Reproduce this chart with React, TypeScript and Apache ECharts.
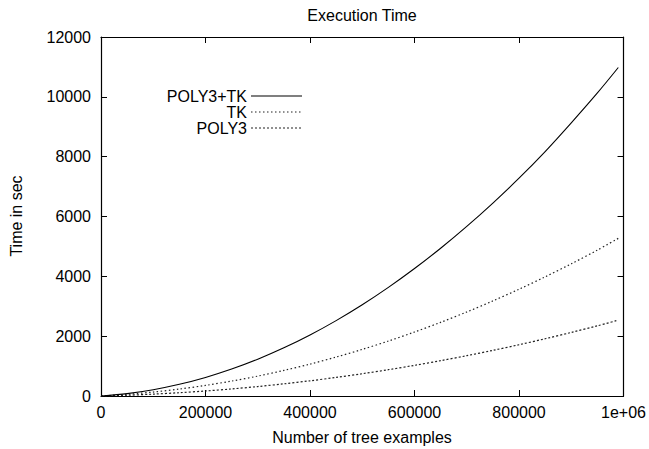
import React, { useEffect, useRef } from "react";
import * as echarts from "echarts";

const xValues = [0, 50000, 100000, 150000, 200000, 250000, 300000, 350000, 400000, 450000, 500000, 550000, 600000, 650000, 700000, 750000, 800000, 850000, 900000, 950000, 990000];
const poly3tk = [0, 80, 210, 390, 620, 900, 1230, 1610, 2040, 2520, 3050, 3630, 4260, 4940, 5670, 6450, 7280, 8170, 9130, 10130, 10980];
const tk = [0, 55, 132, 232, 354, 499, 665, 855, 1066, 1301, 1558, 1837, 2139, 2462, 2809, 3178, 3569, 3983, 4419, 4877, 5270];
const poly3 = [0, 25, 62, 110, 168, 236, 316, 407, 508, 621, 745, 879, 1025, 1181, 1348, 1526, 1714, 1914, 2124, 2346, 2535];
const seriesNames = ["POLY3+TK", "TK", "POLY3"];
const xTickLabels: Record<number, string> = { 1000000: "1e+06" };

const FONT = "'Liberation Sans', Arial, Helvetica, sans-serif";

export default function App() {
  const ref = useRef<HTMLDivElement>(null);
  useEffect(() => {
    if (!ref.current) return;
    const chart = echarts.init(ref.current, undefined, { renderer: "svg" });
    const pair = (ys: number[]) => xValues.map((x, i) => [x, ys[i]]);
    const styles = [
      { color: "#000", width: 1.1, type: "solid" as any },
      { color: "#222", width: 1.2, type: [1.5, 2.5] as any },
      { color: "#222", width: 1.2, type: [2, 2] as any },
    ];
    const axisCommon = {
      axisLine: { show: true, onZero: false, lineStyle: { color: "#000", width: 1.2 } },
      axisTick: { show: true, inside: true, length: 6, lineStyle: { color: "#000" } },
      splitLine: { show: false },
    };
    const legendY = [96, 112, 128];
    const legendGraphics: any[] = [];
    seriesNames.forEach((n, i) => {
      legendGraphics.push({
        type: "text",
        x: 247,
        y: legendY[i],
        style: { text: n, fontSize: 16, fontFamily: FONT, fill: "#000", align: "right", verticalAlign: "middle" },
      });
      legendGraphics.push({
        type: "line",
        shape: { x1: 251, y1: legendY[i], x2: 302, y2: legendY[i] },
        style: { stroke: styles[i].color, lineWidth: styles[i].width, lineDash: i === 0 ? null : styles[i].type },
      });
    });
    chart.setOption({
      animation: false,
      backgroundColor: "#fff",
      grid: { left: 101, right: 25, top: 37, bottom: 53, show: false },
      xAxis: [
        {
          type: "value", min: 0, max: 1000000, interval: 200000, position: "bottom",
          ...axisCommon,
          axisLabel: {
            fontSize: 16, fontFamily: FONT, color: "#000", margin: 8,
            formatter: (v: number) => xTickLabels[v] ?? String(v),
          },
        },
        {
          type: "value", min: 0, max: 1000000, interval: 200000, position: "top",
          ...axisCommon, axisLabel: { show: false },
        },
      ],
      yAxis: [
        {
          type: "value", min: 0, max: 12000, interval: 2000, position: "left",
          ...axisCommon,
          axisLabel: { fontSize: 16, fontFamily: FONT, color: "#000", margin: 10, formatter: (v: number) => String(v) },
        },
        {
          type: "value", min: 0, max: 12000, interval: 2000, position: "right",
          ...axisCommon, axisLabel: { show: false },
        },
      ],
      series: [poly3tk, tk, poly3].map((d, i) => ({
        name: seriesNames[i],
        type: "line",
        data: pair(d),
        smooth: 0.3,
        showSymbol: false,
        symbol: "none",
        lineStyle: styles[i],
        z: 3 - i,
      })),
      graphic: [
        {
          type: "text", x: 362, y: 15,
          style: { text: "Execution Time", fontSize: 16, fontFamily: FONT, fill: "#000", align: "center", verticalAlign: "middle" },
        },
        {
          type: "text", x: 362, y: 437,
          style: { text: "Number of tree examples", fontSize: 16, fontFamily: FONT, fill: "#000", align: "center", verticalAlign: "middle" },
        },
        {
          type: "text", x: 16, y: 216, rotation: Math.PI / 2,
          style: { text: "Time in sec", fontSize: 16, fontFamily: FONT, fill: "#000", align: "center", verticalAlign: "middle" },
        },
        ...legendGraphics,
      ],
    });
    return () => chart.dispose();
  }, []);
  return <div ref={ref} style={{ position: "fixed", left: 0, top: 0, width: 649, height: 449 }} />;
}
